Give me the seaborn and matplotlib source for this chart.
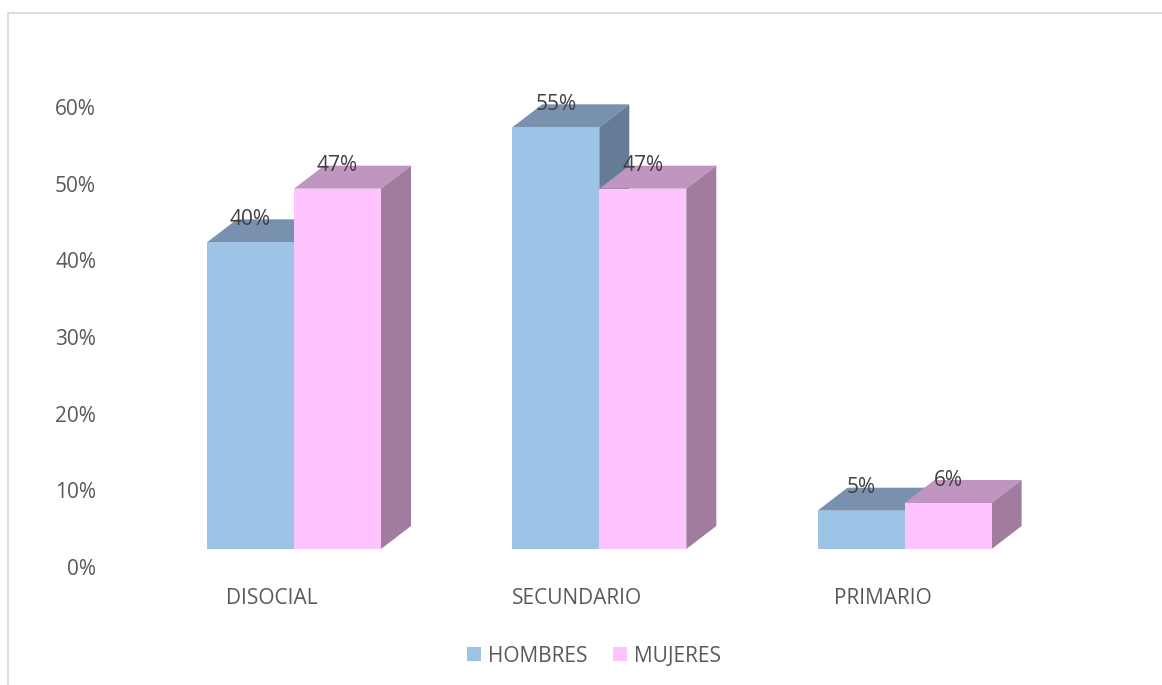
import pandas as pd
import seaborn as sns
import matplotlib.pyplot as plt
from matplotlib.lines import Line2D
from matplotlib.patches import Polygon
from matplotlib.transforms import ScaledTranslation

# Valores
categorias = ["DISOCIAL", "SECUNDARIO", "PRIMARIO"]
hombres = [40, 55, 5]
mujeres = [47, 47, 6]
ticks_y = [0, 10, 20, 30, 40, 50, 60]

COR_FRENTE = {"HOMBRES": "#9DC3E6", "MUJERES": "#FFC4FF"}
COR_TOPO = {"HOMBRES": "#7891AF", "MUJERES": "#C095C0"}
COR_LADO = {"HOMBRES": "#647C96", "MUJERES": "#A27C9F"}
COR_TEXTO = "#595959"

# Deslocamento do efeito 3D, em pixels
DX, DY = 30, 23
W, H = 1162, 685

df = pd.DataFrame({
    "categoria": categorias * 2,
    "grupo": ["HOMBRES"] * 3 + ["MUJERES"] * 3,
    "valor": hombres + mujeres,
})

sns.set_theme(style="white")
plt.rcParams["font.family"] = ["Open Sans", "DejaVu Sans"]

fig = plt.figure(figsize=(W / 100, H / 100), dpi=100)
ax = fig.add_axes([110 / W, (H - 549) / H, 950 / W, 460 / H])

sns.barplot(
    data=df, x="categoria", y="valor", hue="grupo", palette=COR_FRENTE,
    width=0.57, gap=0, saturation=1, linewidth=0, zorder=3, ax=ax,
)

ax.set_xlim((110 - 294) / 305.3, (1060 - 294) / 305.3)
ax.set_ylim(0, 60)
ax.set_xlabel("")
ax.set_ylabel("")
sns.despine(ax=ax, left=True, bottom=True)

# ======== Faces superior e lateral das barras ========
fig.canvas.draw()
inv = ax.transData.inverted()
for nome, cont, z in zip(["HOMBRES", "MUJERES"], ax.containers, [2, 2.5]):
    for bar in cont:
        x0, y0 = ax.transData.transform((bar.get_x(), 0))
        x1, y1 = ax.transData.transform((bar.get_x() + bar.get_width(), bar.get_height()))
        s = fig.dpi / 100
        dx, dy = DX * s, DY * s
        topo = [(x0, y1), (x1, y1), (x1 + dx, y1 + dy), (x0 + dx, y1 + dy)]
        lado = [(x1, y0), (x1 + dx, y0 + dy), (x1 + dx, y1 + dy), (x1, y1)]
        ax.add_patch(Polygon(inv.transform(topo), color=COR_TOPO[nome], lw=0, zorder=z))
        ax.add_patch(Polygon(inv.transform(lado), color=COR_LADO[nome], lw=0, zorder=z))

for cont in ax.containers:
    ax.bar_label(cont, fmt="{:.0f}%", padding=9, fontsize=15, color="#404040", zorder=5)

# ======== Eixos: rótulos deslocados como no gráfico original ========
ax.set_yticks(ticks_y, [f"{t}%" for t in ticks_y])
ax.tick_params(axis="y", length=0, pad=10, labelsize=15, labelcolor=COR_TEXTO)
ax.tick_params(axis="x", length=0, pad=28, labelsize=15, labelcolor=COR_TEXTO)
desc_y = ScaledTranslation(0, -18 / 100, fig.dpi_scale_trans)
desc_x = ScaledTranslation(-22 / 100, 0, fig.dpi_scale_trans)
for lab in ax.get_yticklabels():
    lab.set_transform(lab.get_transform() + desc_y)
for lab in ax.get_xticklabels():
    lab.set_transform(lab.get_transform() + desc_x)

sns.move_legend(
    ax, "center", bbox_to_anchor=(594 / W, (H - 656) / H),
    bbox_transform=fig.transFigure, ncol=2, title=None, frameon=False,
    fontsize=15, labelcolor=COR_TEXTO, handlelength=0.68, handleheight=0.68,
    handletextpad=0.3, columnspacing=1.25,
)

# Moldura do gráfico (só topo e esquerda aparecem no recorte)
fig.add_artist(Line2D([8 / W, 1], [1 - 13 / H, 1 - 13 / H], color="#D9D9D9", lw=1.3))
fig.add_artist(Line2D([8 / W, 8 / W], [0, 1 - 13 / H], color="#D9D9D9", lw=1.3))

fig.savefig("out.png", dpi=100)
plt.close(fig)
print("out.png salvo")
